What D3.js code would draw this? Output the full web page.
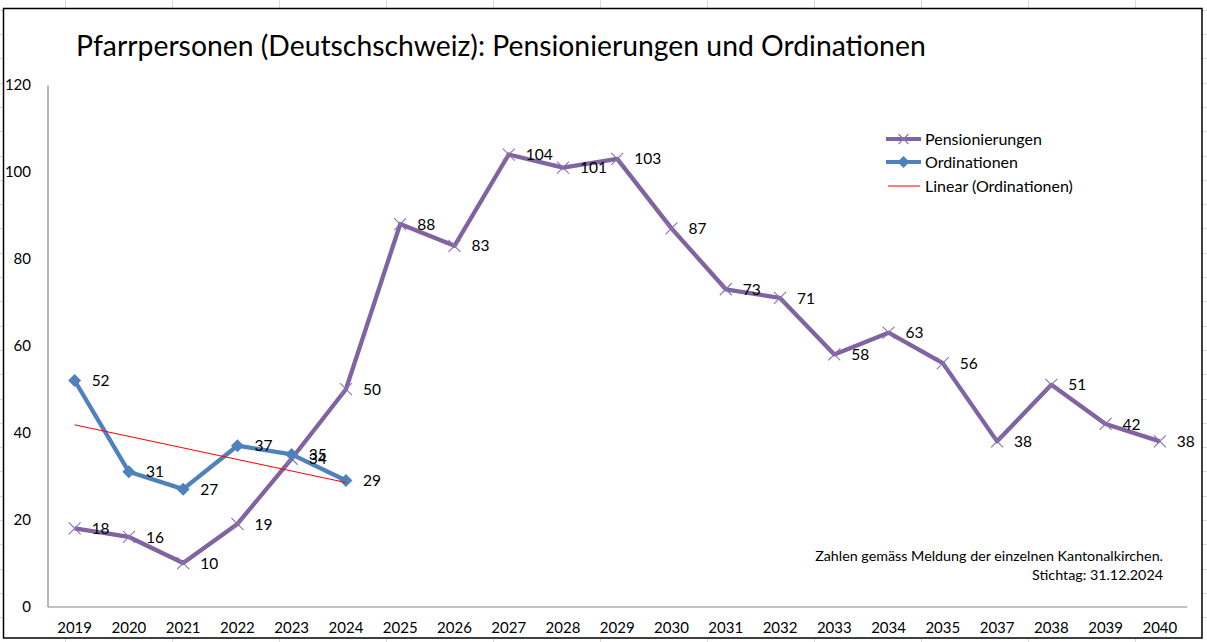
<!DOCTYPE html>
<html><head><meta charset="utf-8">
<script src="https://cdn.jsdelivr.net/npm/d3@7"></script>
<style>
body{margin:0;background:#fff;overflow:hidden}
svg{display:block}
text{font-family:Lato,"Open Sans",sans-serif;fill:#000}
</style>
</head><body>
<svg id="c" width="1207" height="642"></svg>
<script>
// ---- data ----
const years = ["2019","2020","2021","2022","2023","2024","2025","2026","2027","2028","2029","2030","2031","2032","2033","2034","2035","2037","2038","2039","2040"];
const pensionierungen = [18,16,10,19,34,50,88,83,104,101,103,87,73,71,58,63,56,38,51,42,38];
const ordinationenYears = ["2019","2020","2021","2022","2023","2024"];
const ordinationen = [52,31,27,37,35,29];
const yTicks = [0,20,40,60,80,100,120];
const titleText = "Pfarrpersonen (Deutschschweiz): Pensionierungen und Ordinationen";
const noteLines = ["Zahlen gemäss Meldung der einzelnen Kantonalkirchen.","Stichtag: 31.12.2024"];
const legendLabels = ["Pensionierungen","Ordinationen","Linear (Ordinationen)"];

const colPurple = "#8064A2", colBlue = "#4F81BD", colRed = "#FF0000", axisCol = "#868686";

const svg = d3.select("#c");

// spreadsheet grid behind the chart
const gridG = svg.append("g");
d3.range(65, 1207, 107).forEach(x => gridG.append("line").attr("x1",x+0.5).attr("x2",x+0.5).attr("y1",0).attr("y2",642).attr("stroke","#dadada"));
d3.range(9.7, 642, 24.3).forEach(y => gridG.append("line").attr("y1",Math.round(y)+0.5).attr("y2",Math.round(y)+0.5).attr("x1",0).attr("x2",1207).attr("stroke","#dadada"));

// chart frame
svg.append("rect").attr("x",3.5).attr("y",8.5).attr("width",1198.5).attr("height",629.5)
  .attr("fill","#fff").attr("stroke","#000").attr("stroke-width",1.5);

// scales
const x = d3.scaleBand().domain(years).range([47.5,1187]).padding(0);
const cx = d => x(d) + x.bandwidth()/2;
const y = d3.scaleLinear().domain([0,120]).range([606.5,85]);

// axes
const yAxis = d3.axisLeft(y).tickValues(yTicks).tickSize(0).tickPadding(16.5);
const gy = svg.append("g").attr("transform","translate(47.5,0)").call(yAxis);
gy.select(".domain").attr("stroke",axisCol).attr("stroke-width",1.2);
gy.selectAll("text").style("font-size","15px").style("font-family","Lato");

const xAxis = d3.axisBottom(x).tickSize(0).tickPadding(16);
const gx = svg.append("g").attr("transform","translate(0,606.5)").call(xAxis);
gx.select(".domain").attr("stroke",axisCol).attr("stroke-width",1.2);
gx.selectAll("text").style("font-size","15px").style("font-family","Lato");

// lines
const pData = years.map((d,i)=>({k:d,v:pensionierungen[i]}));
const oData = ordinationenYears.map((d,i)=>({k:d,v:ordinationen[i]}));
const line = d3.line().x(d=>cx(d.k)).y(d=>y(d.v));

svg.append("path").datum(pData).attr("d",line).attr("fill","none")
  .attr("stroke",colPurple).attr("stroke-width",4.3).attr("stroke-linejoin","round");
svg.append("g").selectAll("path").data(pData).join("path")
  .attr("transform",d=>`translate(${cx(d.k)},${y(d.v)})`)
  .attr("d","M-6,-6L6,6M-6,6L6,-6").attr("stroke","#8c72ad").attr("stroke-width",1.1).attr("fill","none");

svg.append("path").datum(oData).attr("d",line).attr("fill","none")
  .attr("stroke",colBlue).attr("stroke-width",4.3).attr("stroke-linejoin","round");
svg.append("g").selectAll("path").data(oData).join("path")
  .attr("transform",d=>`translate(${cx(d.k)},${y(d.v)})`)
  .attr("d","M0,-6.5L6.5,0L0,6.5L-6.5,0Z").attr("fill",colBlue);

// linear trend of Ordinationen (least squares)
const n = ordinationen.length;
const xs = d3.range(1,n+1);
const mx = d3.mean(xs), my = d3.mean(ordinationen);
const slope = d3.sum(xs,(xv,i)=>(xv-mx)*(ordinationen[i]-my)) / d3.sum(xs,xv=>(xv-mx)*(xv-mx));
const icpt = my - slope*mx;
const trend = [{k:ordinationenYears[0],v:icpt+slope*1},{k:ordinationenYears[n-1],v:icpt+slope*n}];
svg.append("path").datum(trend).attr("d",line).attr("fill","none").attr("stroke",colRed).attr("stroke-width",1);

// data labels
const lbl = svg.append("g").style("font-size","15.5px");
pData.forEach(d=>lbl.append("text").attr("x",cx(d.k)+17).attr("y",y(d.v)).attr("dy","0.36em").text(d.v));
oData.forEach(d=>lbl.append("text").attr("x",cx(d.k)+17).attr("y",y(d.v)).attr("dy","0.36em").text(d.v));

// title
const t = svg.append("text").attr("x",76).attr("y",56).style("font-size","27px").text(titleText);
const tw = t.node().getComputedTextLength();
t.style("font-size",(27*850/tw)+"px");

// legend
const leg = svg.append("g");
const legY = [139,162,186];
leg.append("line").attr("x1",886).attr("x2",921).attr("y1",legY[0]).attr("y2",legY[0]).attr("stroke",colPurple).attr("stroke-width",4);
leg.append("path").attr("transform",`translate(903.5,${legY[0]})`).attr("d","M-5,-5L5,5M-5,5L5,-5").attr("stroke","#8c72ad").attr("stroke-width",1.1);
leg.append("line").attr("x1",886).attr("x2",921).attr("y1",legY[1]).attr("y2",legY[1]).attr("stroke",colBlue).attr("stroke-width",4);
leg.append("path").attr("transform",`translate(903.5,${legY[1]})`).attr("d","M0,-6L6,0L0,6L-6,0Z").attr("fill",colBlue);
leg.append("line").attr("x1",888).attr("x2",920).attr("y1",legY[2]).attr("y2",legY[2]).attr("stroke",colRed).attr("stroke-width",1);
legendLabels.forEach((s,i)=>leg.append("text").attr("x",925).attr("y",legY[i]).attr("dy","0.36em").style("font-size","16px").text(s));

// note
const nt = svg.append("g").style("font-size","14.3px").attr("text-anchor","end");
noteLines.forEach((s,i)=>nt.append("text").attr("x",1163).attr("y",[556,575][i]).attr("dy","0.36em").text(s));
</script>
</body></html>
